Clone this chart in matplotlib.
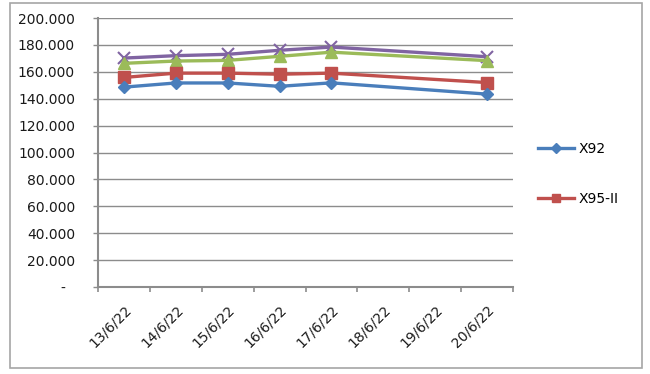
import matplotlib
matplotlib.use("Agg")
import matplotlib.pyplot as plt
from matplotlib.lines import Line2D
from matplotlib.patches import Rectangle

# ---- data ----
date_labels = ['13/6/22', '14/6/22', '15/6/22', '16/6/22', '17/6/22', '18/6/22', '19/6/22', '20/6/22']
obs_dates = ['13/6/22', '14/6/22', '15/6/22', '16/6/22', '17/6/22', '20/6/22']
x92 = [148.6, 151.7, 151.7, 149.2, 151.8, 143.4]
x95 = [155.8, 159.0, 159.0, 158.2, 159.0, 152.0]
green_series = [166.3, 168.0, 168.5, 171.5, 174.6, 168.3]
purple_series = [170.2, 172.0, 173.0, 176.0, 178.4, 171.2]
y_ticks = [0, 20, 40, 60, 80, 100, 120, 140, 160, 180, 200]

plt.rcParams['font.family'] = ['DejaVu Sans']

W, H = 650, 374
fig = plt.figure(figsize=(6.5, 3.74), dpi=100)
fig.patch.set_facecolor('white')

# outer border
fig.patches.append(Rectangle((10 / W, (H - 368) / H), 632 / W, 365 / H,
                             transform=fig.transFigure, fill=False,
                             edgecolor='#a6a6a6', linewidth=1.2))

ax = fig.add_axes([98 / W, (H - 287) / H, 415 / W, 269 / H])

xpos = [date_labels.index(d) + 0.5 for d in obs_dates]

grid_c = '#8c8c8c'
ax.set_ylim(0, 200)
ax.set_xlim(0, len(date_labels))
ax.set_yticks(y_ticks)
ax.set_yticklabels(['-  ' if v == 0 else f"{v}.000" for v in y_ticks], fontsize=10, color='#1a1a1a')
ax.yaxis.grid(True, color=grid_c, linewidth=1.0)
ax.set_axisbelow(True)

ax.set_xticks(range(len(date_labels) + 1))
ax.set_xticklabels([])
ax.set_xticks([i + 0.5 for i in range(len(date_labels))], minor=True)
ax.set_xticklabels(date_labels, minor=True, rotation=45, ha='right', va='top',
                   rotation_mode='anchor', fontsize=10, color='#1a1a1a')
ax.tick_params(axis='x', which='major', direction='out', length=3.6, color=grid_c, width=1.2)
ax.tick_params(axis='x', which='minor', length=0, pad=11)
ax.tick_params(axis='y', direction='out', length=3.6, color=grid_c, width=1.0, pad=13)

for s in ['top', 'right']:
    ax.spines[s].set_visible(False)
for s in ['left', 'bottom']:
    ax.spines[s].set_color(grid_c)
    ax.spines[s].set_linewidth(1.5)

blue, red, green, purple = '#4a7ebb', '#c0504d', '#9bbb59', '#8064a2'
ax.plot(xpos, purple_series, color=purple, lw=2.4, marker='x', ms=8, mew=1.5, zorder=3)
ax.plot(xpos, green_series, color=green, lw=2.4, marker='^', ms=8, zorder=3)
ax.plot(xpos, x95, color=red, lw=2.4, marker='s', ms=8, zorder=4)
ax.plot(xpos, x92, color=blue, lw=2.4, marker='D', ms=6, zorder=5)

handles = [Line2D([], [], color=blue, lw=2.4, marker='D', ms=5),
           Line2D([], [], color=red, lw=2.4, marker='s', ms=6)]
fig.legend(handles, ['X92', 'X95-II'], loc='upper left',
           bbox_to_anchor=(538 / W, (H - 142) / H), bbox_transform=fig.transFigure,
           frameon=False, fontsize=10, borderpad=0, borderaxespad=0,
           handlelength=2.6, handletextpad=0.35, labelspacing=2.6)

fig.savefig('out.png', dpi=100, facecolor='white')
